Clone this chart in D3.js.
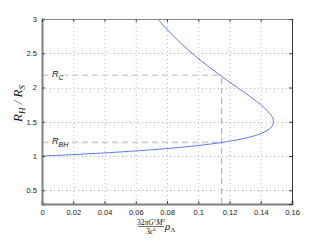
<!DOCTYPE html>
<html><head><meta charset="utf-8">
<script src="https://cdn.jsdelivr.net/npm/d3@7"></script>
<style>body{margin:0;background:#fff}svg{display:block}</style>
</head><body>
<svg id="c" width="323" height="240"></svg>
<script>
// curve samples: R_H/R_S (y) and scaled rho (x)
const curveY = [1.0,1.01,1.02,1.03,1.04,1.05,1.075,1.1,1.125,1.15,1.175,1.2,1.25,1.3,1.35,1.4,1.45,1.5,1.55,1.6,1.7,1.8,1.9,2.0,2.1,2.2,2.3,2.4,2.5,2.6,2.7,2.8,2.9,3.0];
const curveX = [0,0.0097,0.0189,0.0275,0.0356,0.0432,0.0604,0.0751,0.0878,0.0986,0.1079,0.1157,0.128,0.1366,0.1423,0.1458,0.1476,0.1481,0.1477,0.1465,0.1425,0.1372,0.1312,0.125,0.1188,0.1127,0.1069,0.1013,0.096,0.091,0.0864,0.082,0.0779,0.0741];
const xTicks = [0,0.02,0.04,0.06,0.08,0.1,0.12,0.14,0.16];
const xTickLabels = ["0","0.02","0.04","0.06","0.08","0.1","0.12","0.14","0.16"];
const yTicks = [0.5,1,1.5,2,2.5,3];
const yTickLabels = ["0.5","1","1.5","2","2.5","3"];
const markX = 0.115;
const markLevels = [1.2, 2.18];
const markLabels = ["BH","C"];

const svg = d3.select("#c");
const L=42, R=292, T=19, B=204;
const x = d3.scaleLinear().domain([0,0.16]).range([L,R]);
const y = d3.scaleLinear().domain([0.3,3]).range([B,T]);

// grid
const g = svg.append("g");
g.selectAll(".gx").data(xTicks.slice(1,-1)).join("line")
 .attr("x1",d=>x(d)+0.5).attr("x2",d=>x(d)+0.5).attr("y1",T).attr("y2",B)
 .attr("stroke","#bbb").attr("stroke-width",1).attr("stroke-dasharray","1,3");
g.selectAll(".gy").data(yTicks.filter(d=>d<3)).join("line")
 .attr("y1",d=>Math.round(y(d))+0.5).attr("y2",d=>Math.round(y(d))+0.5).attr("x1",L).attr("x2",R)
 .attr("stroke","#bbb").attr("stroke-width",1).attr("stroke-dasharray","1,3");

// dashed marker lines
svg.selectAll(".mh").data(markLevels).join("line")
 .attr("x1",L).attr("x2",x(markX)).attr("y1",d=>y(d)).attr("y2",d=>y(d))
 .attr("stroke","#d0d0d0").attr("stroke-width",1.6).attr("stroke-dasharray","6,4");
svg.append("line").attr("x1",x(markX)).attr("x2",x(markX)).attr("y1",B).attr("y2",y(markLevels[1]))
 .attr("stroke","#aaa").attr("stroke-width",1).attr("stroke-dasharray","6,4");

// curve
const pts = curveY.map((v,i)=>[curveX[i],v]);
svg.append("path").datum(pts)
 .attr("d",d3.line().x(d=>x(d[0])).y(d=>y(d[1])).curve(d3.curveCatmullRom))
 .attr("fill","none").attr("stroke","#4a6cf0").attr("stroke-width",0.9);

// axes
const ax = svg.append("g").attr("transform",`translate(0,${B})`)
 .call(d3.axisBottom(x).tickValues(xTicks).tickFormat((d,i)=>xTickLabels[i]).tickSize(-3).tickPadding(6));
const ay = svg.append("g").attr("transform",`translate(${L},0)`)
 .call(d3.axisLeft(y).tickValues(yTicks).tickFormat((d,i)=>yTickLabels[i]).tickSize(-3).tickPadding(5));
[ax,ay].forEach(a=>{
  a.select(".domain").attr("stroke","#808080").attr("stroke-width",2);
  a.selectAll(".tick line").attr("stroke","#444");
  a.selectAll("text").attr("font-family","Liberation Sans, Arial, sans-serif").attr("font-size",7.5).attr("fill","#222");
});
// top & right axes (ticks only)
svg.append("g").attr("transform",`translate(0,${T})`)
 .call(d3.axisTop(x).tickValues(xTicks).tickFormat("").tickSize(-3))
 .call(s=>{s.select(".domain").attr("stroke","#888").attr("stroke-width",1.2);s.selectAll(".tick line").attr("stroke","#444");});
svg.append("g").attr("transform",`translate(${R},0)`)
 .call(d3.axisRight(y).tickValues(yTicks).tickFormat("").tickSize(-3))
 .call(s=>{s.select(".domain").attr("stroke","#333").attr("stroke-width",1);s.selectAll(".tick line").attr("stroke","#444");});

// marker labels
markLevels.forEach((lv,i)=>{
  const t = svg.append("text").attr("x",52).attr("y",y(lv)+2)
   .attr("font-family","Liberation Sans, Arial, sans-serif").attr("font-style","italic").attr("font-size",9).attr("fill","#111")
   .attr("stroke","#fff").attr("stroke-width",3).attr("paint-order","stroke");
  t.append("tspan").text("R");
  t.append("tspan").attr("dy",3).attr("font-size",7).text(markLabels[i]);
});

// y label
const yl = svg.append("text").attr("transform",`translate(22,${(T+B)/2-8}) rotate(-90)`)
 .attr("text-anchor","middle").attr("font-family","Liberation Serif, serif").attr("font-style","italic").attr("font-size",13).attr("fill","#111");
yl.append("tspan").text("R");
yl.append("tspan").attr("dy",3).attr("font-size",9).text("H");
yl.append("tspan").attr("dy",-3).text(" / R");
yl.append("tspan").attr("dy",3).attr("font-size",9).text("S");

// x label (fraction)
const xl = svg.append("g").attr("font-family","Liberation Serif, serif").attr("fill","#111");
const xlX = 151;
const num = xl.append("text").attr("x",xlX).attr("y",224.5).attr("text-anchor","middle").attr("font-size",7.5);
num.append("tspan").text("32");
num.append("tspan").attr("font-style","italic").text("πG");
num.append("tspan").attr("dy",-2.5).attr("font-size",5).text("3");
num.append("tspan").attr("dy",2.5).attr("font-style","italic").text("M");
num.append("tspan").attr("dy",-2.5).attr("font-size",5).text("2");
xl.append("line").attr("x1",xlX-13).attr("x2",xlX+13).attr("y1",226.5).attr("y2",226.5).attr("stroke","#111").attr("stroke-width",0.6);
const den = xl.append("text").attr("x",xlX).attr("y",233.5).attr("text-anchor","middle").attr("font-size",7.5);
den.append("tspan").text("3");
den.append("tspan").attr("font-style","italic").text("c");
den.append("tspan").attr("dy",-2.5).attr("font-size",5).text("6");
const rho = xl.append("text").attr("x",xlX+14).attr("y",230).attr("font-size",11).attr("font-style","italic");
rho.append("tspan").text("ρ");
rho.append("tspan").attr("dy",2).attr("font-size",7).attr("font-style","normal").text("Λ");
</script>
</body></html>
